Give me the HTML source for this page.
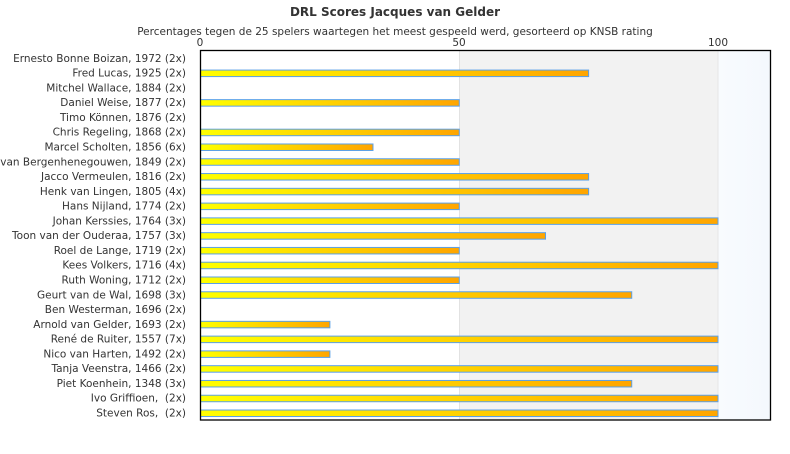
<!DOCTYPE html>
<html><head><meta charset="utf-8"><style>
body{margin:0;background:#fff;width:790px;height:450px;overflow:hidden;font-family:"DejaVu Sans","Liberation Sans",sans-serif}
</style></head><body>
<svg width="790" height="450" xmlns="http://www.w3.org/2000/svg" font-family="DejaVu Sans, Liberation Sans, sans-serif">
<defs>
<linearGradient id="g" x1="0" y1="0" x2="1" y2="0"><stop offset="0" stop-color="#ffff00"/><stop offset="1" stop-color="#ffa500"/></linearGradient>
<linearGradient id="bg" x1="0" y1="0" x2="1" y2="0"><stop offset="0" stop-color="#f8fbfe"/><stop offset="1" stop-color="#f4f8fd"/></linearGradient>
</defs>
<text x="395" y="16" text-anchor="middle" font-size="12" font-weight="bold" fill="#333">DRL Scores Jacques van Gelder</text>
<text x="395" y="35" text-anchor="middle" font-size="10.5" fill="#333">Percentages tegen de 25 spelers waartegen het meest gespeeld werd, gesorteerd op KNSB rating</text>
<text x="200" y="46" text-anchor="middle" font-size="10.5" fill="#333">0</text>
<text x="459" y="46" text-anchor="middle" font-size="10.5" fill="#333">50</text>
<text x="718" y="46" text-anchor="middle" font-size="10.5" fill="#333">100</text>
<rect x="459.5" y="50.5" width="258.5" height="369.5" fill="#f2f2f2"/>
<rect x="718" y="50.5" width="52.5" height="369.5" fill="url(#bg)"/>
<line x1="459.5" y1="50.5" x2="459.5" y2="420" stroke="#e2e2e2"/>
<line x1="718" y1="50.5" x2="718" y2="420" stroke="#e6e6e6"/>
<g id="rows" font-size="10.5" fill="#333" text-anchor="end"></g>
<rect x="200.5" y="50.5" width="570" height="369.5" fill="none" stroke="#000" stroke-width="1.3"/>
</svg>
<script>
var d=[["Ernesto Bonne Boizan, 1972 (2x)",0],["Fred Lucas, 1925 (2x)",75],["Mitchel Wallace, 1884 (2x)",0],["Daniel Weise, 1877 (2x)",50],["Timo Können, 1876 (2x)",0],["Chris Regeling, 1868 (2x)",50],["Marcel Scholten, 1856 (6x)",33.33],["van Bergenhenegouwen, 1849 (2x)",50],["Jacco Vermeulen, 1816 (2x)",75],["Henk van Lingen, 1805 (4x)",75],["Hans Nijland, 1774 (2x)",50],["Johan Kerssies, 1764 (3x)",100],["Toon van der Ouderaa, 1757 (3x)",66.67],["Roel de Lange, 1719 (2x)",50],["Kees Volkers, 1716 (4x)",100],["Ruth Woning, 1712 (2x)",50],["Geurt van de Wal, 1698 (3x)",83.33],["Ben Westerman, 1696 (2x)",0],["Arnold van Gelder, 1693 (2x)",25],["René de Ruiter, 1557 (7x)",100],["Nico van Harten, 1492 (2x)",25],["Tanja Veenstra, 1466 (2x)",100],["Piet Koenhein, 1348 (3x)",83.33],["Ivo Griffioen,  (2x)",100],["Steven Ros,  (2x)",100]];
var g=document.getElementById("rows"),ns="http://www.w3.org/2000/svg",s="";
d.forEach(function(r,i){var y=55.3+i*14.78;
s+='<text x="186" y="'+(y+6.5)+'" xml:space="preserve">'+r[0]+'</text>';
if(r[1]>0)s+='<rect x="200.5" y="'+y+'" width="'+(r[1]*5.175)+'" height="6.5" fill="url(#g)" stroke="#5aa0e8" stroke-width="1"/>';});
g.innerHTML=s;
</script>
</body></html>
